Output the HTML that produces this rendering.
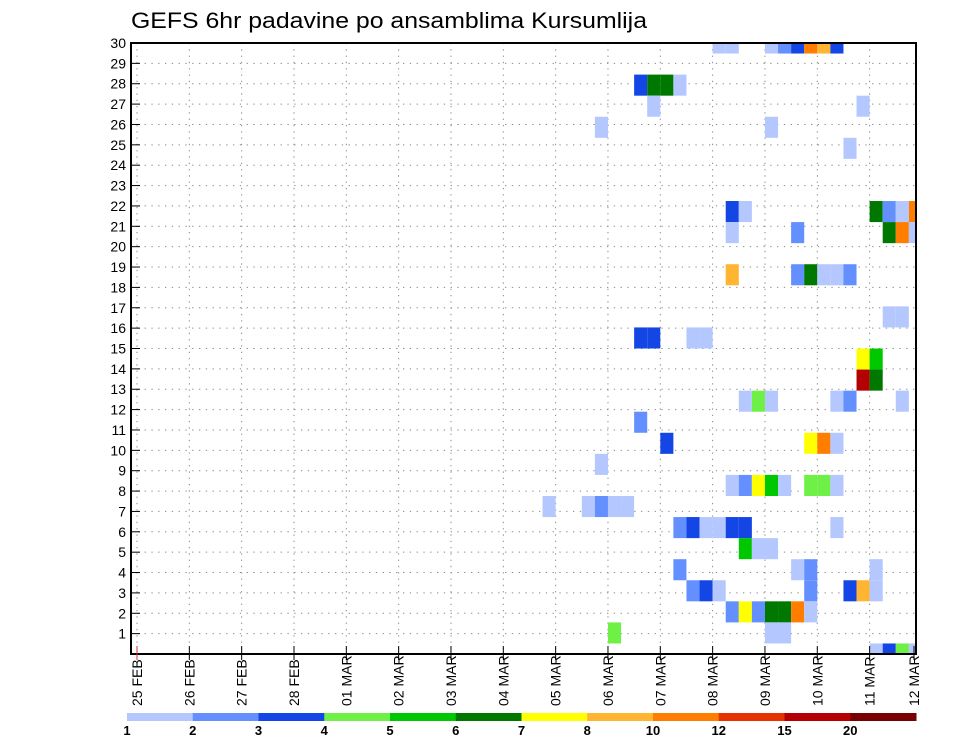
<!DOCTYPE html>
<html><head><meta charset="utf-8">
<style>
html,body{margin:0;padding:0;background:#fff;}
svg{display:block;font-family:"Liberation Sans","DejaVu Sans",sans-serif;}
</style></head>
<body>
<svg id="chart" width="960" height="742" viewBox="0 0 960 742" xmlns="http://www.w3.org/2000/svg">
<rect x="0" y="0" width="960" height="742" fill="#fff"/>
<text x="131" y="28" font-size="22" textLength="516" lengthAdjust="spacingAndGlyphs" fill="#000">GEFS 6hr padavine po ansamblima Kursumlija</text>
<g id="grid"></g>
<g id="cells"></g>
<rect x="131" y="43" width="785" height="611" fill="none" stroke="#000" stroke-width="2"/>
<g id="axes"></g>
<g id="legend"></g>
</svg>
<script>
// ---- data ----
const dayLabels = ["25 FEB","26 FEB","27 FEB","28 FEB","01 MAR","02 MAR","03 MAR","04 MAR","05 MAR","06 MAR","07 MAR","08 MAR","09 MAR","10 MAR","11 MAR","12 MAR"];
const yTicks = [1,2,3,4,5,6,7,8,9,10,11,12,13,14,15,16,17,18,19,20,21,22,23,24,25,26,27,28,29,30];
const levelLabels = ["1","2","3","4","5","6","7","8","10","12","15","20"];
const levelBounds = [1,2,3,4,5,6,7,8,10,12,15,20,30];
const levelColors = ["#b4c8ff","#6490ff","#1446e6","#6ef046","#00c800","#007800","#ffff00","#ffb432","#ff7d00","#e63200","#b40000","#780000"];
// precipitation cells: ensemble member, 6-hr step index (from 25 FEB 00Z), value (mm)
const cellMember = [
 30,30,30,30,30,30,30,30,
 28,28,28,28,
 27,27,
 26,26,
 25,
 22,22,22,22,22,22,
 21,21,21,21,21,
 19,19,19,19,19,19,
 17,17,
 16,16,16,16,
 15,15,
 14,14,
 13,13,13,13,13,13,
 12,
 11,11,11,11,
 10,
 9,9,9,9,9,9,9,9,
 8,8,8,8,8,
 7,7,7,7,7,7,7,
 6,6,6,
 5,5,5,5,
 4,4,4,4,4,4,4,
 3,3,3,3,3,3,3,
 2,2,2,
 1,1,1,1];
const cellStep = [
 44,45,48,49,50,51,52,53,
 38,39,40,41,
 39,55,
 35,48,
 54,
 45,46,56,57,58,59,
 45,50,57,58,59,
 45,50,51,52,53,54,
 57,58,
 38,39,42,43,
 55,56,
 55,56,
 46,47,48,53,54,58,
 38,
 40,51,52,53,
 35,
 45,46,47,48,49,51,52,53,
 31,34,35,36,37,
 41,42,43,44,45,46,53,
 46,47,48,
 41,50,51,56,
 42,43,44,51,54,55,56,
 45,46,47,48,49,50,51,
 36,48,49,
 56,57,58,59];
const cellValue = [
 1.5,1.5,1.5,2.5,3.5,11,9,3.5,
 3.5,6.5,6.5,1.5,
 1.5,1.5,
 1.5,1.5,
 1.5,
 3.5,1.5,6.5,2.5,1.5,11,
 1.5,2.5,6.5,11,1.5,
 9,2.5,6.5,1.5,1.5,2.5,
 1.5,1.5,
 3.5,3.5,1.5,1.5,
 7.5,5.5,
 17,6.5,
 1.5,4.5,1.5,1.5,2.5,1.5,
 2.5,
 3.5,7.5,11,1.5,
 1.5,
 1.5,2.5,7.5,5.5,1.5,4.5,4.5,1.5,
 1.5,1.5,2.5,1.5,1.5,
 2.5,3.5,1.5,1.5,3.5,3.5,1.5,
 5.5,1.5,1.5,
 2.5,1.5,2.5,1.5,
 2.5,3.5,1.5,2.5,3.5,9,1.5,
 2.5,7.5,2.5,6.5,6.5,11,1.5,
 4.5,1.5,1.5,
 1.5,3.5,4.5,1.5];
</script>
<script>
const NS="http://www.w3.org/2000/svg";
const L=131,R=916,T=43,B=654;
const X0=137, DAY=52.33;
function xScale(t){return X0+DAY*t;}
function yLab(v){return B-(B-T)*v/30;}
const CELL_H=(B-T)/29;
function yCell(m){return B-(m-1)*CELL_H;}
function colorFor(v){for(let i=0;i<levelColors.length;i++){if(v<levelBounds[i+1])return levelColors[i];}return levelColors[levelColors.length-1];}
function mk(tag,attrs,parent){const e=document.createElementNS(NS,tag);for(const k in attrs)e.setAttribute(k,attrs[k]);parent.appendChild(e);return e;}

const grid=document.getElementById('grid');
yTicks.forEach(v=>{
  const y=yLab(v);
  const l=mk('line',{x1:L,x2:R,y1:y,y2:y,stroke:'#888','stroke-width':1,'stroke-dasharray':'1.3 5.5'},grid);
  
  
});
dayLabels.forEach((d,i)=>{
  const x=xScale(i); if(x>R-1)return;
  const l=mk('line',{x1:x,x2:x,y1:T,y2:B,stroke:'#888','stroke-width':1,'stroke-dasharray':'1.3 5'},grid);
  
  
});

const cg=document.getElementById('cells');
const clip=mk('clipPath',{id:'pc'},mk('defs',{},document.getElementById('chart')));
mk('rect',{x:L,y:T,width:R-L,height:B-T},clip);
cg.setAttribute('clip-path','url(#pc)');
const n=Math.min(cellMember.length,cellStep.length,cellValue.length);
for(let i=0;i<n;i++){
  const x1=xScale(cellStep[i]/4), x2=xScale((cellStep[i]+1)/4);
  const yc=yCell(cellMember[i]);
  const r=mk('rect',{x:x1,y:yc-CELL_H/2,width:x2-x1,height:CELL_H,fill:colorFor(cellValue[i])},cg);
  
  
}

const ax=document.getElementById('axes');
yTicks.forEach(v=>{
  const y=yLab(v);
  mk('line',{x1:L,x2:L+9,y1:y,y2:y,stroke:'#000','stroke-width':1},ax);
  const t=mk('text',{x:L-5,y:y+5,'font-size':14,'text-anchor':'end',fill:'#000'},ax);
  t.textContent=v;
  
  
});
dayLabels.forEach((d,i)=>{
  let x=xScale(i); if(x>R) x=R-2;
  mk('line',{x1:x,x2:x,y1:B-8,y2:B+6,stroke:i===0?'#c33':'#000','stroke-width':1},ax);
  const t=mk('text',{x:0,y:0,'font-size':14,fill:'#000',transform:'translate('+(x+5)+',706) rotate(-90)'},ax);
  t.textContent=d;
  
  
});

const lg=document.getElementById('legend');
const LX0=127,LX1=916,SW=(LX1-LX0)/levelColors.length;
levelColors.forEach((c,i)=>{
  const r=mk('rect',{x:LX0+i*SW,y:713,width:SW+0.5,height:8,fill:c},lg);
  
  
});
levelLabels.forEach((s,i)=>{
  const t=mk('text',{x:LX0+i*SW,y:735,'font-size':13,'font-weight':'bold','text-anchor':'middle',fill:'#000'},lg);
  t.textContent=s;
  
  
});
</script>
</body></html>
